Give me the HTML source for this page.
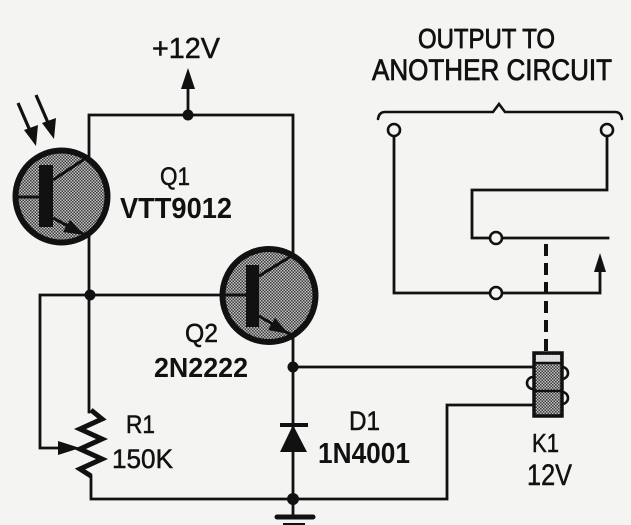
<!DOCTYPE html>
<html><head><meta charset="utf-8"><style>
html,body{margin:0;padding:0;background:#f4f4f2;}
svg{display:block;}
text{font-family:"Liberation Sans",Arial,sans-serif;fill:#111;}
</style></head><body>
<svg width="631" height="525" viewBox="0 0 631 525" xmlns="http://www.w3.org/2000/svg">
<defs>
<pattern id="st" width="3" height="3" patternUnits="userSpaceOnUse">
<rect width="3" height="3" fill="#c4c4c4"/>
<rect width="1.5" height="1.5" fill="#3a3a3a"/>
<rect x="1.5" y="1.5" width="1.5" height="1.5" fill="#3a3a3a"/>
</pattern>
</defs>
<rect width="631" height="525" fill="#f4f4f2"/>
<g stroke="#111" stroke-width="2.8" fill="none" stroke-linecap="square">
<!-- top rail -->
<polyline points="89,236 89,115 293,115 293,255"/>
<line x1="188" y1="115" x2="188" y2="86"/>
<!-- left main vertical -->
<line x1="89" y1="236" x2="89" y2="412"/>
<!-- base line Q2 -->
<line x1="89" y1="295" x2="222" y2="295"/>
<!-- wiper loop -->
<polyline points="89,295 40,295 40,448 62,448"/>
<!-- resistor -->
<polyline points="91,410 102,419 80,429 102,439 80,449 102,459 80,469 91,476" stroke-width="5" stroke-linejoin="miter" stroke-linecap="butt"/>
<polyline points="91,476 91,499 447,499 447,405 533,405"/>
<!-- Q2 emitter down -->
<line x1="293" y1="336" x2="293" y2="514"/>
<line x1="293" y1="367" x2="533" y2="367"/>
<!-- output side -->
<polyline points="394,136 394,293 490,293"/>
<polyline points="502,293 600,293 600,270"/>
<polyline points="607,136 607,190 472,190 472,238 490,238"/>
<line x1="502" y1="238" x2="608" y2="238"/>
<path d="M378,119 Q379,112 385,112 L493,112 L499,104 L505,112 L615,112 Q621,112 622,119" stroke-width="2.6" stroke-linecap="round"/>
</g>
<!-- light arrows -->
<g stroke="#111" stroke-width="3.2" fill="#111">
<line x1="18" y1="103" x2="31" y2="133"/>
<polygon points="36,146 24,130 38,125" stroke="none"/>
<line x1="36" y1="95" x2="49" y2="125"/>
<polygon points="54,139 42,123 56,118" stroke="none"/>
</g>
<!-- Q1 -->
<circle cx="61.5" cy="196.5" r="46" fill="url(#st)" stroke="#111" stroke-width="6"/>
<rect x="39" y="165" width="14" height="62" fill="#111"/>
<g stroke="#111" stroke-width="3" fill="none">
<line x1="16" y1="197" x2="39" y2="197"/>
<line x1="53" y1="180" x2="89" y2="156"/>
<line x1="53" y1="218" x2="89" y2="237"/>
</g>
<polygon points="84,235 63,232 70,220" fill="#111"/>
<!-- Q2 -->
<circle cx="269" cy="295.5" r="46.5" fill="url(#st)" stroke="#111" stroke-width="6"/>
<rect x="246" y="265" width="13" height="62" fill="#111"/>
<g stroke="#111" stroke-width="3" fill="none">
<line x1="222" y1="295" x2="246" y2="295"/>
<line x1="259" y1="276" x2="293" y2="255"/>
<line x1="259" y1="316" x2="293" y2="336"/>
</g>
<polygon points="289,334 268,330 275,318" fill="#111"/>
<!-- +12V arrow -->
<polygon points="188,68 181,89 195,89" fill="#111"/>
<!-- wiper arrow -->
<polygon points="80,448 58,441 58,455" fill="#111"/>
<!-- diode -->
<line x1="280" y1="425" x2="308" y2="425" stroke="#111" stroke-width="4"/>
<polygon points="293,425 280,452 307,452" fill="#111"/>
<!-- ground -->
<line x1="277" y1="517" x2="313" y2="517" stroke="#111" stroke-width="5" stroke-linecap="round"/>
<line x1="283" y1="524" x2="305" y2="524" stroke="#111" stroke-width="2"/>
<!-- junction dots -->
<g fill="#111">
<circle cx="188" cy="115" r="5.5"/>
<circle cx="90" cy="295" r="5.5"/>
<circle cx="293" cy="367" r="5.5"/>
<circle cx="293" cy="499" r="6"/>
</g>
<!-- arrow on output contact -->
<polygon points="600,253 594,272 606,272" fill="#111"/>
<!-- terminals -->
<g fill="#f4f4f2" stroke="#111" stroke-width="2.6">
<circle cx="394" cy="130" r="6"/>
<circle cx="607" cy="130" r="6"/>
<circle cx="496" cy="238" r="6"/>
<circle cx="496" cy="293" r="6"/>
</g>
<!-- dashed linkage -->
<line x1="546" y1="244" x2="546" y2="352" stroke="#111" stroke-width="4" stroke-dasharray="12 7"/>
<!-- relay -->
<g stroke="#111" stroke-width="2.6" fill="none">
<path d="M533,377 A6,6 0 0 0 533,389"/>
<path d="M562,367 A6,6 0 0 1 562,379"/>
<path d="M562,392 A6,6 0 0 1 562,404"/>
</g>
<rect x="534" y="353" width="28" height="63" fill="url(#st)" stroke="#111" stroke-width="3.5"/>
<rect x="536" y="355" width="24" height="7" fill="#e0e0e0"/>
<line x1="534" y1="363" x2="562" y2="363" stroke="#111" stroke-width="2.5"/>
<line x1="534" y1="391" x2="562" y2="391" stroke="#111" stroke-width="2.5"/>
<!-- labels -->
<g stroke="#111" stroke-width="0.5">
<text x="152" y="58" font-size="29" textLength="68" lengthAdjust="spacingAndGlyphs">+12V</text>
<text x="160" y="185" font-size="25" textLength="30" lengthAdjust="spacingAndGlyphs">Q1</text>
<text x="185" y="342" font-size="26" textLength="33" lengthAdjust="spacingAndGlyphs">Q2</text>
<text x="126" y="433" font-size="25" textLength="29" lengthAdjust="spacingAndGlyphs">R1</text>
<text x="112" y="468" font-size="27" textLength="61" lengthAdjust="spacingAndGlyphs">150K</text>
<text x="349" y="430" font-size="27" textLength="31" lengthAdjust="spacingAndGlyphs">D1</text>
<text x="532" y="452" font-size="26" textLength="27" lengthAdjust="spacingAndGlyphs">K1</text>
<text x="527" y="485" font-size="30" textLength="45" lengthAdjust="spacingAndGlyphs">12V</text>
</g>
<text x="120" y="218" font-size="29" font-weight="bold" textLength="112" lengthAdjust="spacingAndGlyphs">VTT9012</text>
<text x="154" y="377" font-size="28" font-weight="bold" textLength="94" lengthAdjust="spacingAndGlyphs">2N2222</text>
<text x="318" y="463" font-size="29" font-weight="bold" textLength="92" lengthAdjust="spacingAndGlyphs">1N4001</text>
<text x="418" y="48" font-size="28" stroke="#111" stroke-width="0.8" textLength="137" lengthAdjust="spacingAndGlyphs">OUTPUT TO</text>
<text x="372" y="80" font-size="30" stroke="#111" stroke-width="0.8" textLength="240" lengthAdjust="spacingAndGlyphs">ANOTHER CIRCUIT</text>
</svg>
</body></html>
